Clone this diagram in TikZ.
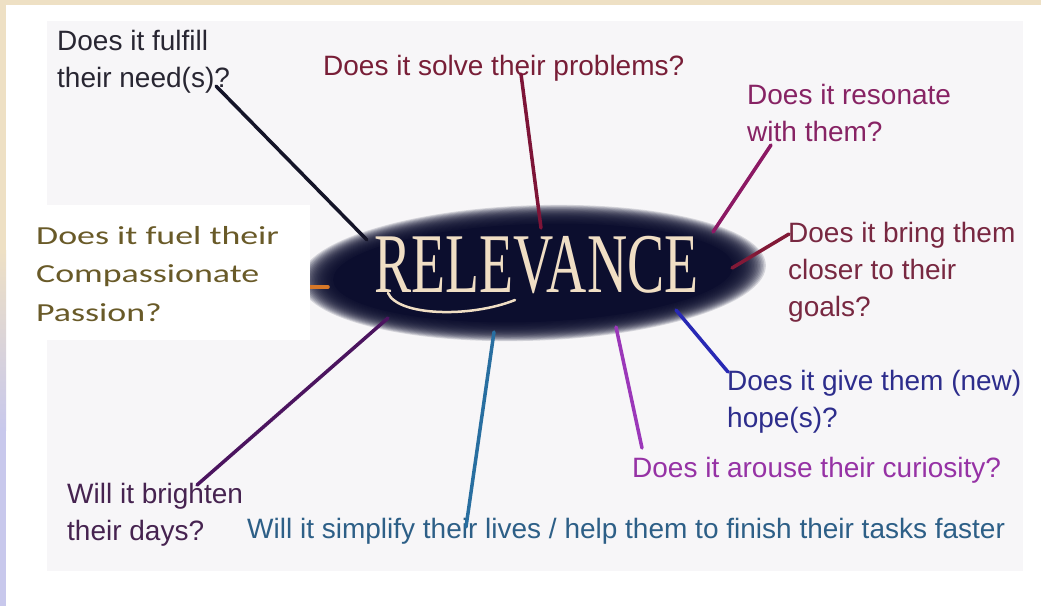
\documentclass[tikz,border=0pt]{standalone}
\usepackage{graphicx}
\usepackage{fontspec}
\setmainfont{Liberation Sans}
\newfontfamily\calibfont{Carlito}
\newfontfamily\decofont{Liberation Serif}
\usetikzlibrary{calc}

\definecolor{topbeige}{RGB}{238,224,196}
\definecolor{lavender}{RGB}{200,200,236}
\definecolor{panel}{RGB}{247,246,248}
\definecolor{navy}{RGB}{12,14,46}
\definecolor{cream}{RGB}{240,222,196}
% label inks
\definecolor{cFulfill}{RGB}{40,38,50}
\definecolor{cSolve}{RGB}{120,30,55}
\definecolor{cResonate}{RGB}{135,35,100}
\definecolor{cBring}{RGB}{120,40,65}
\definecolor{cHope}{RGB}{45,45,140}
\definecolor{cCurious}{RGB}{150,50,165}
\definecolor{cSimplify}{RGB}{45,95,135}
\definecolor{cBrighten}{RGB}{70,35,80}
\definecolor{cPassion}{RGB}{105,90,40}
% connector inks
\definecolor{lFulfill}{RGB}{20,20,40}
\definecolor{lSolve}{RGB}{125,20,55}
\definecolor{lResonate}{RGB}{140,25,100}
\definecolor{lBring}{RGB}{130,25,55}
\definecolor{lHope}{RGB}{40,40,180}
\definecolor{lCurious}{RGB}{155,55,185}
\definecolor{lSimplify}{RGB}{40,110,160}
\definecolor{lBrighten}{RGB}{75,20,95}
\definecolor{lPassion}{RGB}{215,120,40}

\newcommand\linesof[1]{\begin{tabular}[t]{@{}l@{}}#1\end{tabular}}

\begin{document}
\begin{tikzpicture}[x=1pt,y=-1pt,
  question/.style={anchor=base west, inner sep=0pt, font=\fontsize{28}{37}\selectfont},
  link/.style={line width=3.5pt, line cap=round}]
\useasboundingbox (0,0) rectangle (1041,606);

% page frame
\fill[white] (0,0) rectangle (1041,606);
\fill[topbeige] (0,0) rectangle (1041,5);
\fill[topbeige] (0,0) rectangle (6,250);
\shade[top color=topbeige, bottom color=lavender] (0,250) rectangle (6,430);
\fill[lavender] (0,430) rectangle (6,606);
\fill[panel] (47,21) rectangle (1023,571);

% soft dark oval behind the title
\coordinate (hubc) at (533,273);
\foreach \k [evaluate=\k as \rx using 200+1.5*\k, evaluate=\k as \ry using 49+0.85*\k] in {22,21,...,1} {
  \fill[navy, fill opacity=0.14, rotate around={2:(hubc)}] (hubc) ellipse [x radius=\rx pt, y radius=\ry pt];
}
\fill[navy, rotate around={2:(hubc)}] (hubc) ellipse [x radius=200pt, y radius=49pt];

% title
\node[inner sep=0pt, anchor=base, text=cream] (hub) at (536.5,292)
  {\decofont\fontsize{85}{85}\selectfont\scalebox{0.655}[1]{RELEVANCE}};
\draw[cream, line width=2.5pt, line cap=round] (388,293) .. controls (398,316) and (470,318) .. (515,300);

% questions
\node[question, text=cFulfill] (fulfill) at (57,50) {\linesof{Does it fulfill\\their need(s)?}};
\node[question, text=cSolve] (solve) at (323,75) {Does it solve their problems?};
\node[question, text=cResonate] (resonate) at (747,104) {\linesof{Does it resonate\\with them?}};
\node[question, text=cBring] (bring) at (788,242) {\linesof{Does it bring them\\closer to their\\goals?}};
\node[question, text=cHope] (hope) at (727,390) {\linesof{Does it give them (new)\\hope(s)?}};
\node[question, text=cCurious] (curious) at (632,477) {Does it arouse their curiosity?};
\node[question, text=cBrighten] (brighten) at (67,503) {\linesof{Will it brighten\\their days?}};
\node[question, text=cSimplify] (simplify) at (247,538) {Will it simplify their lives / help them to finish their tasks faster};

% connector end points
\coordinate (fulfillTip) at (216,86);   \coordinate (hubFulfill) at (367,240);
\coordinate (solveTip) at (521,74);     \coordinate (hubSolve) at (541,228);
\coordinate (resonateTip) at (771,145); \coordinate (hubResonate) at (713,232);
\coordinate (bringTip) at (789,234);    \coordinate (hubBring) at (732,268);
\coordinate (hopeTip) at (728,372);     \coordinate (hubHope) at (676,310);
\coordinate (curiousTip) at (642,448);  \coordinate (hubCurious) at (616,327);
\coordinate (simplifyTip) at (466,527); \coordinate (hubSimplify) at (494,332);
\coordinate (brightenTip) at (197,485); \coordinate (hubBrighten) at (388,318);
\coordinate (hubPassion) at (328,287);

% connectors
\draw[link, lPassion] (hubPassion) -- (300,287);
\draw[link, lFulfill] (fulfillTip) -- (hubFulfill);
\draw[link, lSolve] (solveTip) -- (hubSolve);
\draw[link, lResonate] (resonateTip) -- (hubResonate);
\draw[link, lBring] (bringTip) -- (hubBring);
\draw[link, lHope] (hopeTip) -- (hubHope);
\draw[link, lCurious] (curiousTip) -- (hubCurious);
\draw[link, lSimplify] (simplifyTip) -- (hubSimplify);
\draw[link, lBrighten] (brightenTip) -- (hubBrighten);

% pasted text box
\fill[white] (33,205) rectangle (310,340);
\node[anchor=base west, inner sep=0pt, text=cPassion] (passion) at (36,244)
  {\calibfont\fontsize{26}{38.5}\selectfont\scalebox{1.38}[1]{\linesof{Does it fuel their\\Compassionate\\Passion?}}};
\end{tikzpicture}
\end{document}
